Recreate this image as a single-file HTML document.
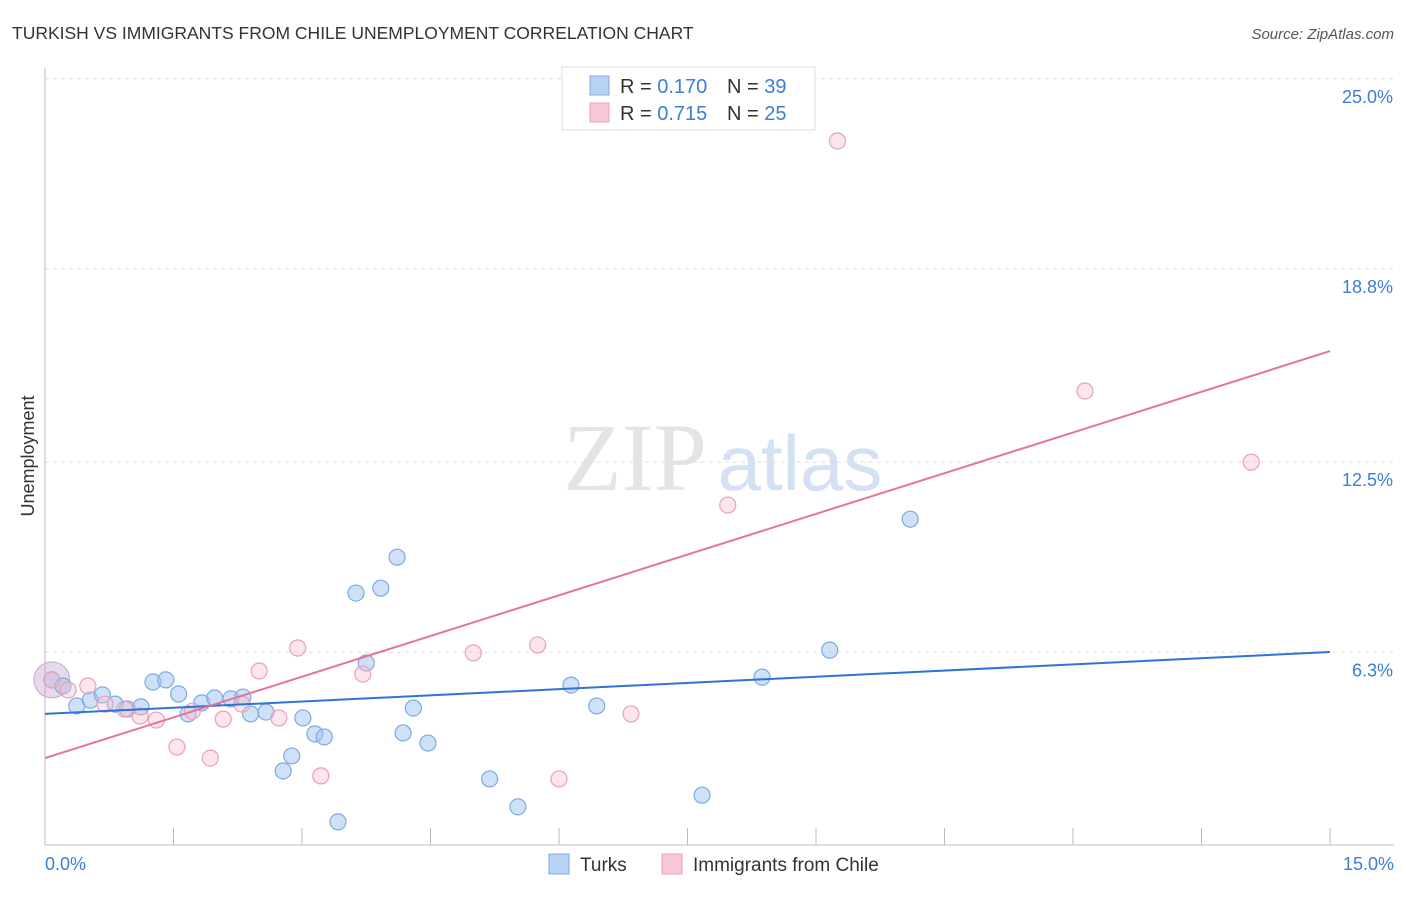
<!DOCTYPE html>
<html><head><meta charset="utf-8"><style>
body{margin:0;background:#fff;font-family:"Liberation Sans",sans-serif;}
</style></head><body>
<svg width="1406" height="892" xmlns="http://www.w3.org/2000/svg">
<text x="12" y="39" font-size="17.5" fill="#333">TURKISH VS IMMIGRANTS FROM CHILE UNEMPLOYMENT CORRELATION CHART</text>
<text x="1394" y="39" font-size="15" fill="#555" font-style="italic" text-anchor="end">Source: ZipAtlas.com</text>
<g>
<text x="635" y="490" font-size="96" font-family="Liberation Serif,serif" fill="#e4e4e4" text-anchor="middle">ZIP</text>
<text x="800" y="490" font-size="78" fill="#d3e1f3" text-anchor="middle">atlas</text>
</g>
<g id="grid"></g>
<g id="axes"></g>
<g id="marks"></g>
<text transform="translate(34,456) rotate(-90)" font-size="18" fill="#333" text-anchor="middle">Unemployment</text>
<text x="45" y="870" font-size="18" fill="#3d7dd8">0.0%</text>
<text x="1394" y="870" font-size="18" fill="#3d7dd8" text-anchor="end">15.0%</text>
<g>
<rect x="562" y="67" width="253" height="63" fill="#fff" stroke="#ddd"/>
<rect x="590" y="76" width="19" height="19" fill="#b8d2f4" stroke="#7fa9e0"/>
<rect x="590" y="103" width="19" height="19" fill="#f8c8d6" stroke="#e9a0b8"/>
<text x="620" y="93" font-size="20" fill="#333">R = <tspan fill="#3d7dd8">0.170</tspan></text>
<text x="727" y="93" font-size="20" fill="#333">N = <tspan fill="#3d7dd8">39</tspan></text>
<text x="620" y="120" font-size="20" fill="#333">R = <tspan fill="#3d7dd8">0.715</tspan></text>
<text x="727" y="120" font-size="20" fill="#333">N = <tspan fill="#3d7dd8">25</tspan></text>
</g>
<g>
<rect x="549" y="854" width="20" height="20" fill="#b8d2f4" stroke="#7fa9e0"/>
<text x="580" y="871" font-size="19" fill="#333">Turks</text>
<rect x="662" y="854" width="20" height="20" fill="#f8c8d6" stroke="#e9a0b8"/>
<text x="693" y="871" font-size="19" fill="#333">Immigrants from Chile</text>
</g>
</svg>
<script>
const yTicks=[25.0,18.8,12.5,6.3];
const yTickLabels=["25.0%","18.8%","12.5%","6.3%"];
const xTicks=[0,1.5,3,4.5,6,7.5,9,10.5,12,13.5,15];
const turksX=[0.08,0.21,0.37,0.53,0.67,0.82,0.96,1.12,1.26,1.41,1.56,1.67,1.83,1.98,2.17,2.31,2.40,2.58,2.78,2.88,3.01,3.15,3.26,3.42,3.63,3.75,3.92,4.11,4.18,4.30,4.47,5.19,5.52,6.14,6.44,7.67,8.37,9.16,10.10];
const turksY=[5.40,5.20,4.55,4.74,4.91,4.61,4.45,4.52,5.33,5.40,4.94,4.29,4.65,4.81,4.78,4.84,4.29,4.35,2.43,2.92,4.16,3.64,3.54,0.77,8.23,5.95,8.39,9.40,3.67,4.48,3.34,2.17,1.26,5.23,4.55,1.64,5.49,6.37,10.64];
const chileX=[0.08,0.27,0.50,0.70,0.93,1.11,1.30,1.54,1.72,1.93,2.08,2.30,2.50,2.73,2.95,3.22,3.71,5.00,5.75,6.00,6.84,7.97,9.25,12.14,14.08];
const chileY=[5.40,5.07,5.20,4.61,4.45,4.22,4.09,3.21,4.38,2.85,4.12,4.61,5.69,4.16,6.44,2.27,5.59,6.28,6.54,2.17,4.29,11.10,22.97,14.82,12.50];
const turksTrend=[4.29,6.31];
const chileTrend=[2.85,16.12];
const NS="http://www.w3.org/2000/svg";
function xs(v){return 45+v/15*1285;}
function ys(v){return 845.5-v*30.67;}
function mk(tag,attrs,parent){const e=document.createElementNS(NS,tag);for(const k in attrs)e.setAttribute(k,attrs[k]);document.getElementById(parent).appendChild(e);return e;}
yTicks.forEach((t,i)=>{
 const l=mk('line',{x1:45,x2:1394,y1:ys(t),y2:ys(t),stroke:'#ddd','stroke-dasharray':'4,4'},'grid');
 
 
 const tx=mk('text',{x:1393,y:ys(t)+24,'font-size':18,fill:'#3d7dd8','text-anchor':'end'},'grid');
 tx.textContent=yTickLabels[i];
 
 
});
const ya=mk('line',{x1:45,x2:45,y1:68,y2:845,stroke:'#bbb'},'axes');


const xa=mk('line',{x1:45,x2:1394,y1:845,y2:845,stroke:'#bbb'},'axes');


xTicks.forEach(t=>{
 const l=mk('line',{x1:xs(t),x2:xs(t),y1:828,y2:845,stroke:'#bbb'},'axes');
 
 
});
const big=mk('circle',{cx:xs(turksX[0]),cy:ys(turksY[0]),r:18,fill:'rgba(200,170,210,0.45)',stroke:'#c9a8d0'},'marks');


turksX.forEach((x,i)=>{
 const c=mk('circle',{cx:xs(x),cy:ys(turksY[i]),r:8,fill:'rgba(160,196,240,0.5)',stroke:'#7fa9e0','stroke-width':1.2},'marks');
 
 
});
chileX.forEach((x,i)=>{
 const c=mk('circle',{cx:xs(x),cy:ys(chileY[i]),r:8,fill:'rgba(248,190,208,0.4)',stroke:'#e9a0b8','stroke-width':1.2},'marks');
 
 
});
const tl=mk('line',{x1:xs(0),y1:ys(turksTrend[0]),x2:xs(15),y2:ys(turksTrend[1]),stroke:'#2f73d6','stroke-width':2},'marks');


const cl=mk('line',{x1:xs(0),y1:ys(chileTrend[0]),x2:xs(15),y2:ys(chileTrend[1]),stroke:'#e5739b','stroke-width':2},'marks');


</script>
</body></html>
